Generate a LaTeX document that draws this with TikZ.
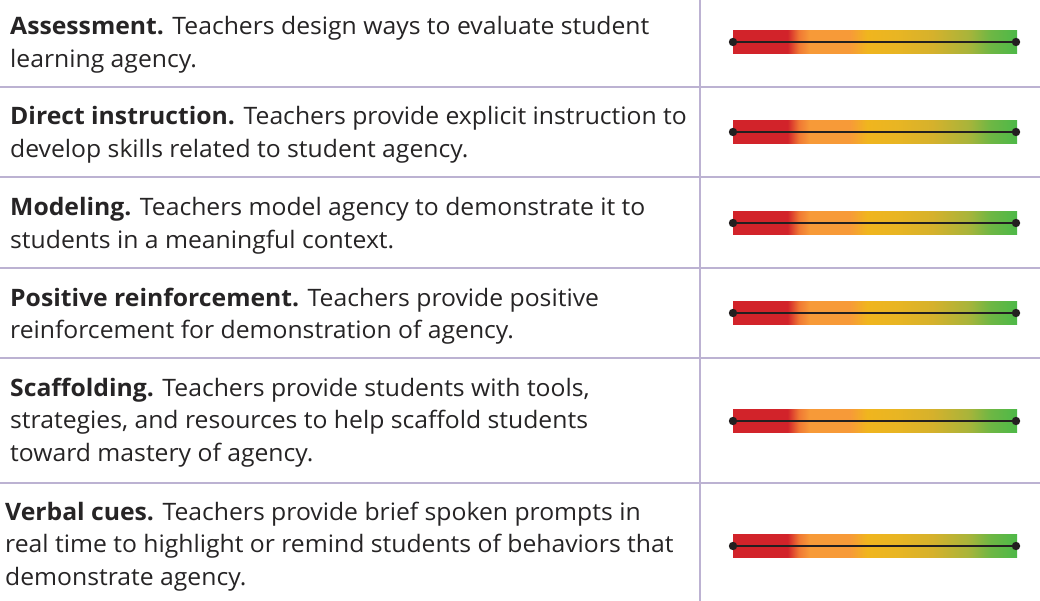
\documentclass[tikz,border=0pt]{standalone}
\usepackage{fontspec}
\setmainfont[FakeStretch=1.03]{Open Sans}
\definecolor{txt}{HTML}{262425}
\definecolor{sepc}{HTML}{BCB2D2}
\definecolor{dotc}{HTML}{231F20}
\definecolor{cA}{RGB}{210,35,42}
\definecolor{cB}{RGB}{240,120,52}
\definecolor{cC}{RGB}{247,154,56}
\definecolor{cD}{RGB}{240,181,30}
\definecolor{cE}{RGB}{232,181,35}
\definecolor{cF}{RGB}{213,177,44}
\definecolor{cG}{RGB}{169,180,58}
\definecolor{cH}{RGB}{110,183,68}
\definecolor{cI}{RGB}{77,184,72}
\pgfdeclarehorizontalshading{agency}{100bp}{%
  color(0bp)=(cA); color(25bp)=(cA); color(34.6bp)=(cA);
  color(36.6bp)=(cB); color(38.5bp)=(cC); color(45.6bp)=(cC); color(48.6bp)=(cD);
  color(54bp)=(cE); color(60.2bp)=(cF); color(66.4bp)=(cG);
  color(70.3bp)=(cH); color(75bp)=(cI); color(100bp)=(cI)}
\begin{document}
\begin{tikzpicture}[x=1pt,y=-1pt,
  sep/.style={draw=sepc, line width=1.2pt},
  desc/.style={anchor=base west, align=left, inner sep=0pt, text=txt,
    font=\fontsize{24}{32.5}\selectfont},
  barbox/.style={shading=agency, minimum width=284pt, minimum height=23pt, inner sep=0pt, draw=none},
  scaleline/.style={draw=dotc, line width=2pt},
  enddot/.style={fill=dotc}]
\useasboundingbox[fill=white] (0,0) rectangle (1040,601);
% grid
\draw[sep] (700,0) -- (700,601);
\foreach \yy in {87,177,268,358,483} \draw[sep] (0,\yy) -- (1040,\yy);
% texts (anchored at the baseline of their last line)
\node[desc] (t1) at (10,67.5) {\textbf{Assessment.} Teachers design ways to evaluate student\\learning agency.};
\node[desc] (t2) at (10,157.5) {\textbf{Direct instruction.} Teachers provide explicit instruction to\\develop skills related to student agency.};
\node[desc] (t3) at (10,248.5) {\textbf{Modeling.} Teachers model agency to demonstrate it to\\students in a meaningful context.};
\node[desc] (t4) at (10,338.5) {\textbf{Positive reinforcement.} Teachers provide positive\\reinforcement for demonstration of agency.};
\node[desc] (t5) at (10,461) {\textbf{Scaffolding.} Teachers provide students with tools,\\strategies, and resources to help scaffold students\\toward mastery of agency.};
\node[desc] (t6) at (5,585) {\textbf{Verbal cues.} Teachers provide brief spoken prompts in\\real time to highlight or remind students of behaviors that\\demonstrate agency.};
% bars
\foreach \i/\yy in {1/42,2/132,3/223,4/313,5/421,6/546}{
  \node[barbox] (b\i) at (875,\yy) {};
  \coordinate (l\i) at (733,\yy);
  \coordinate (r\i) at (1016,\yy);
  \draw[scaleline] (l\i) -- (r\i);
  \fill[enddot] (l\i) circle (4.2pt);
  \fill[enddot] (r\i) circle (4.2pt);
}
\end{tikzpicture}
\end{document}
